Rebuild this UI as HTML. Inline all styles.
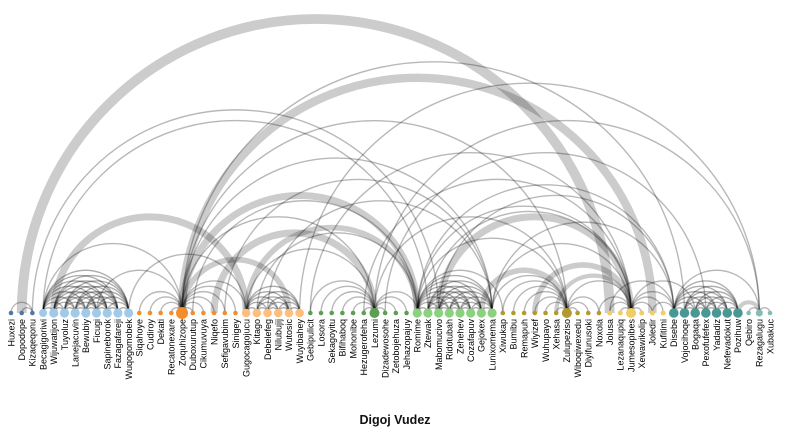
<!DOCTYPE html>
<html><head><meta charset="utf-8"><style>
html,body{margin:0;padding:0;background:#fff;}
svg{display:block;font-family:"Liberation Sans",sans-serif;}
</style></head><body>
<svg id="chart" width="786" height="433" viewBox="0 0 786 433">
<g id="links"></g>
<g id="nodes"></g>
<g id="labels"></g>
<text x="395" y="424" text-anchor="middle" font-size="12.5" font-weight="bold" fill="#111">Digoj Vudez</text>
</svg>
<script>
const nodeNames = ["Huxezi","Dopodope","Kizaqeqonu","Becagigoriwi","Wijuwatijon","Tuyoluz","Lanejacuvin","Bewubiy","Ficugi","Sapineborok","Fazagafareji","Wuqogomobek","Siqahoye","Cudiroy","Dekati","Recatonexare","Zoquhizope","Duboxurutup","Cikumuvuya","Niqefo","Sefigavubim","Sinigey","Gugocagojucu","Kitago","Debelefeg","Nilubujij","Wutosic","Wuyibahey","Gebipulicit","Losora","Sekagoyitu","Bifihaboq","Mohonibe","Hezugerofeha","Lezumi","Dizadewosohe","Zetobojehuza","Jehazopajuy","Romime","Ztewak","Mabomucivo","Ridotubah","Zehehev","Cozafapuv","Gejokex","Lunixomema","Xiwukap","Bumibu","Remapuh","Wiyizef","Wuhupayo","Xehasa","Zulupeziso","Wiboqiwexedu","Diyifunusoki","Noxola","Jolusa","Lezanaqupiq","Jumesopibes","Xewawikolip","Joledir","Kufitimi","Disebe","Vojocihoqe","Bogaqa","Pexofufefex","Yadadiz","Nefevadokut","Pozihuw","Qebiro","Rezagalugu","Xubakuc"];
const nodeGroups = [0,0,0,1,1,1,1,1,1,1,1,1,2,2,2,2,2,2,2,2,2,2,3,3,3,3,3,3,4,4,4,4,4,4,4,4,4,4,5,5,5,5,5,5,5,5,6,6,6,6,6,6,6,6,6,6,7,7,7,7,7,7,8,8,8,8,8,8,8,9,9,9];
const nodeSizes = [2.3,2.3,2.3,4,4.6,4.6,4.6,4.6,4.6,4.6,4.6,4.6,2.3,2.3,2.3,2.3,6,2.3,2.3,2.3,2.3,2.3,4.3,4.3,4.3,4.3,4.3,4.3,2.3,2.3,2.3,2.3,2.3,2.3,5,2.3,2.3,2.3,4.6,4.6,4.6,4.6,4.6,4.6,4.6,4.6,2.3,2.3,2.3,2.3,2.3,2.3,5,2.3,2.3,2.3,2.5,2.5,5,2.5,2.5,2.5,4.8,4.8,4.8,4.8,4.8,4.8,4.8,2.3,3.5,2.3];
const groupColors = ["#4e79a7","#a0cbe8","#f28e2b","#ffbe7d","#59a14f","#8cd17d","#b6992d","#f1ce63","#499894","#86bcb6"];
const cliques = [[3,4,5,6,7,8,9,10,11],[22,23,24,25,26,27],[38,39,40,41,42,43,44,45],[62,63,64,65,66,67,68]];
const starHubs = [16,34,52,58];
const starLeaves = [[12,13,14,15,17,18,19,20,21],[28,29,30,31,32,33,35,36,37],[46,47,48,49,50,51,53,54,55],[56,57,59,60,61]];
const linkSources = [1,16,4,16,19,22,16,40,44,49,51,68,0,1,2,3,3,8,11,16,16,16,16,16,20,23,27,34,28,33,34,38,38,39,38,45,45,40,35,52,55,58,58,60,56,62,69,70,34,22,38,45,17,24];
const linkTargets = [56,60,22,38,34,38,26,58,52,58,58,70,2,2,40,39,16,16,22,22,34,45,52,63,45,38,70,70,58,58,52,52,62,58,58,58,62,62,65,58,58,62,64,62,62,70,70,71,38,34,46,52,38,45];
const linkValues = [7,6,5,5,5,4,4,5,4,4,3,3,1,1,1,1,1,1,1,1,1,1,1,1,1,1,1,1,1,1,1,1,1,1,1,1,1,1,1,1,1,1,1,1,1,1,1,1,1,1,1,1,1,1];

const NS = "http://www.w3.org/2000/svg";
const baseY = 313;
function xPos(i){ return 11 + i * (759 / (nodeNames.length - 1)); }
function widthScale(v){ return v * 1.4; }
const linksG = document.getElementById("links");
function drawArc(a, b, v, dark){
  const x1 = Math.min(xPos(a), xPos(b)), x2 = Math.max(xPos(a), xPos(b));
  const r = (x2 - x1) / 2;
  const p = document.createElementNS(NS, "path");
  p.setAttribute("d", `M${x1},${baseY} A${r},${r} 0 0 1 ${x2},${baseY}`);
  p.setAttribute("fill", "none");
  p.setAttribute("stroke", "#000");
  p.setAttribute("stroke-width", widthScale(v));
  p.setAttribute("stroke-opacity", dark ? 0.32 : (v > 2 ? 0.2 : 0.28));
  
  
  linksG.appendChild(p);
}
for (let i = 0; i < linkSources.length; i++) drawArc(linkSources[i], linkTargets[i], linkValues[i], false);
starHubs.forEach((h, k) => starLeaves[k].forEach(l => drawArc(h, l, 1, false)));
cliques.forEach(c => { for (let i = 0; i < c.length; i++) for (let j = i + 1; j < c.length; j++) drawArc(c[i], c[j], 1, true); });

const nodesG = document.getElementById("nodes");
const labelsG = document.getElementById("labels");
nodeNames.forEach((n, i) => {
  const c = document.createElementNS(NS, "circle");
  c.setAttribute("cx", xPos(i));
  c.setAttribute("cy", baseY);
  c.setAttribute("r", nodeSizes[i]);
  c.setAttribute("fill", groupColors[nodeGroups[i]]);
  
  
  nodesG.appendChild(c);
  const t = document.createElementNS(NS, "text");
  t.setAttribute("transform", `translate(${xPos(i) + 3.3},319) rotate(-90)`);
  t.setAttribute("text-anchor", "end");
  t.setAttribute("font-size", "9");
  t.setAttribute("fill", "#000");
  t.textContent = n;
  
  
  labelsG.appendChild(t);
});
</script>
</body></html>
